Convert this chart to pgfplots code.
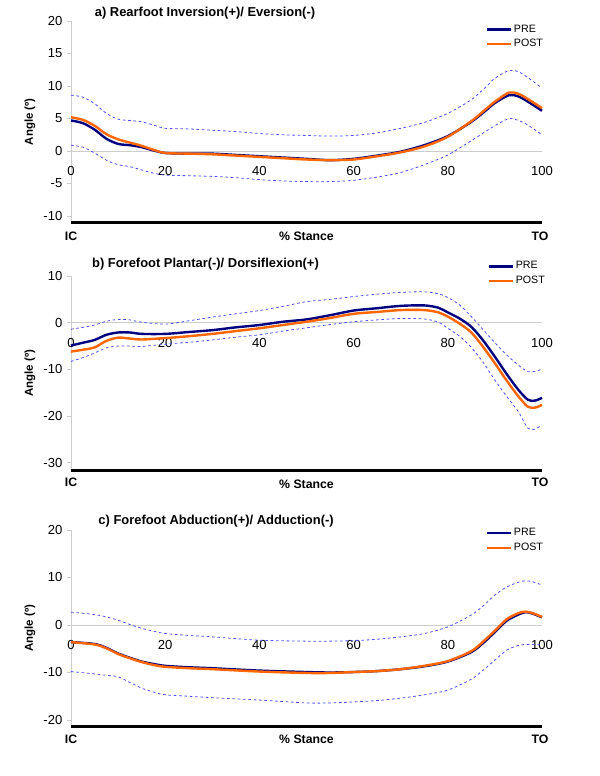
\documentclass[border=0pt]{standalone}
\usepackage{pgfplots}
\pgfplotsset{compat=1.18}
\usepackage{pgfplotstable}
\usepackage{fontspec}
\setmainfont{Liberation Sans}
\definecolor{prec}{RGB}{0,0,128}
\definecolor{postc}{RGB}{255,102,0}
\definecolor{bandc}{RGB}{80,80,255}
\definecolor{axgray}{RGB}{205,205,205}

\pgfplotstableread{
x pre post up lo
0 4.7 5.2 8.6 0.9
2.5 4.3 4.8 8.3 0.6
5 3.3 3.9 7.3 -0.3
7.5 1.9 2.6 5.8 -1.4
10 1.1 1.8 4.9 -2.1
12.5 0.9 1.3 4.7 -2.4
15 0.6 0.8 4.5 -2.9
17.5 0.1 0.2 4.0 -3.4
20 -0.3 -0.3 3.5 -3.7
25 -0.4 -0.4 3.4 -3.8
30 -0.4 -0.5 3.2 -3.9
35 -0.6 -0.7 3.0 -4.1
40 -0.8 -0.9 2.7 -4.4
45 -1.0 -1.1 2.5 -4.6
50 -1.2 -1.3 2.4 -4.7
55 -1.4 -1.4 2.3 -4.7
60 -1.2 -1.3 2.4 -4.5
65 -0.7 -0.8 2.8 -4.0
70 -0.1 -0.2 3.5 -3.3
75 0.9 0.7 4.4 -2.1
80 2.3 2.2 5.8 -0.6
85 4.5 4.6 7.9 1.6
88 6.2 6.4 9.8 3.0
90 7.4 7.6 11.2 3.9
93 8.6 9.0 12.4 5.0
95 8.4 8.8 12.2 4.7
97 7.6 8.0 11.3 4.0
100 6.2 6.6 9.7 2.5
}\dataA

\pgfplotstableread{
x pre post up lo
0 -4.9 -6.2 -1.4 -8.3
2.5 -4.3 -5.8 -1.0 -7.5
5 -3.7 -5.3 -0.5 -6.5
7.5 -2.6 -3.9 0.3 -5.4
10 -2.1 -3.2 0.7 -5.0
12.5 -2.1 -3.4 0.6 -5.0
15 -2.4 -3.6 0.1 -5.1
20 -2.4 -3.3 -0.3 -4.6
25 -2.0 -2.9 0.4 -4.2
30 -1.6 -2.4 1.2 -3.7
35 -1.0 -1.8 1.9 -3.1
40 -0.5 -1.2 2.6 -2.6
45 0.2 -0.5 3.5 -1.8
50 0.7 0.2 4.5 -1.1
55 1.6 1.0 5.0 -0.4
60 2.6 1.9 5.6 0.2
65 3.1 2.3 6.1 0.6
70 3.6 2.7 6.5 0.9
75 3.7 2.7 6.6 0.8
78 3.2 2.2 6.2 0.1
80 2.2 1.3 5.4 -1.2
82.5 0.9 -0.2 3.8 -2.9
85 -0.9 -2.1 1.3 -5.3
87.5 -3.8 -5.2 -1.5 -8.5
90 -7.3 -8.7 -4.3 -12.3
92.5 -11.0 -12.4 -6.9 -15.8
95 -14.4 -15.8 -9.1 -19.1
97 -16.5 -18.0 -10.5 -22.6
98.5 -16.7 -18.2 -10.4 -22.8
100 -16.1 -17.6 -10.0 -21.9
}\dataB

\pgfplotstableread{
x pre post up lo
0 -3.6 -3.6 2.7 -9.8
5 -4.0 -4.1 2.2 -10.3
7.5 -4.8 -4.9 1.7 -10.6
10 -6.0 -6.1 1.0 -10.9
12.5 -6.9 -7.0 0.1 -12.1
15 -7.7 -7.8 -0.7 -13.3
17.5 -8.2 -8.4 -1.3 -14.1
20 -8.6 -8.8 -1.8 -14.7
25 -8.9 -9.1 -2.2 -15.0
30 -9.1 -9.3 -2.5 -15.3
40 -9.6 -9.8 -3.2 -15.8
50 -9.9 -10.1 -3.4 -16.4
55 -10.0 -10.1 -3.4 -16.4
60 -9.9 -9.9 -3.3 -16.2
65 -9.7 -9.7 -3.0 -15.9
70 -9.3 -9.3 -2.5 -15.4
75 -8.7 -8.6 -1.8 -14.7
80 -7.7 -7.6 -0.4 -13.7
85 -5.7 -5.5 2.1 -11.4
87.5 -3.8 -3.5 4.0 -9.5
90 -1.5 -1.2 6.3 -7.4
92.5 0.9 1.2 8.0 -5.3
95 2.2 2.5 9.0 -4.3
96.5 2.7 2.8 9.3 -4.1
98 2.4 2.5 9.1 -4.1
100 1.6 1.7 8.4 -4.2
}\dataC

\pgfplotsset{
  legend image code/.code={\draw[#1] (0pt,0pt) -- (18pt,0pt);},
  panel/.style={
    scale only axis, width=353.25pt,
    xmin=0, xmax=100, clip=false,
    axis x line=middle, axis y line=left,
    x axis line style={axgray, line width=0.6pt, -},
    y axis line style={axgray, line width=0.6pt, -},
    xtick={0,20,...,100},
    x tick style={draw=none},
    y tick style={axgray, line width=0.6pt},
    tick align=outside,
    major tick length=3pt,
    hide obscured x ticks=false,
    /pgf/number format/assume math mode=true,
    tick label style={font=\fontsize{9.8}{11}\selectfont},
    xticklabel style={yshift=-5pt},
    ylabel={Angle (º)},
    every axis y label/.style={at={(rel axis cs:0,0.5)}, xshift=-30.75pt, rotate=90, anchor=center, font=\bfseries\fontsize{8.6}{10}\selectfont},
    xlabel={\% Stance},
    every axis x label/.style={at={(rel axis cs:0.5,0)}, anchor=center, yshift=-10pt, font=\bfseries\fontsize{9.2}{10}\selectfont},
    title style={font=\bfseries\fontsize{9.7}{11}\selectfont, anchor=center},
    legend style={draw=none, fill=none, font=\fontsize{8}{9.5}\selectfont, anchor=north west, inner sep=0pt, row sep=2pt, nodes={inner sep=1pt}},
    legend cell align=left,
  },
  preline/.style={prec, line width=1.8pt, smooth},
  postline/.style={postc, line width=1.8pt, smooth},
  bandline/.style={bandc, line width=0.6pt, dash pattern=on 2pt off 2pt, smooth},
}

\begin{document}
\begin{tikzpicture}
\useasboundingbox (0,0) rectangle (450pt,582pt);

% Panel a
\begin{axis}[panel, at={(53.25pt,415.1pt)}, anchor=south west, height=151.1pt,
  ymin=-11, ymax=20, ytick={-10,-5,...,20},
  title={a) Rearfoot Inversion(+)/ Eversion(-)},
  title style={at={(rel axis cs:0.2845,1.0)}},
  legend style={at={(rel axis cs:0.881,0.99)}}]
\addplot[bandline, forget plot] table[x=x, y=up] {\dataA};
\addplot[bandline, forget plot] table[x=x, y=lo] {\dataA};
\addplot[preline] table[x=x, y=pre] {\dataA};
\addplot[postline] table[x=x, y=post] {\dataA};
\legend{PRE, POST}
\draw[black, line width=2.2pt] (rel axis cs:0,0) -- (rel axis cs:1,0);
\node[font=\bfseries\fontsize{9.2}{10}\selectfont] at (rel axis cs:0,0) [yshift=-10pt] {IC};
\node[font=\bfseries\fontsize{9.2}{10}\selectfont] at (rel axis cs:0.996,0) [yshift=-10pt] {TO};
\end{axis}

% Panel b
\begin{axis}[panel, at={(53.25pt,229.0pt)}, anchor=south west, height=146.0pt,
  ymin=-31.7, ymax=10, ytick={-30,-20,...,10},
  title={b) Forefoot Plantar(-)/ Dorsiflexion(+)},
  title style={at={(rel axis cs:0.2855,1.0205)}},
  legend style={at={(rel axis cs:0.885,1.082)}}]
\addplot[bandline, forget plot] table[x=x, y=up] {\dataB};
\addplot[bandline, forget plot] table[x=x, y=lo] {\dataB};
\addplot[preline] table[x=x, y=pre] {\dataB};
\addplot[postline] table[x=x, y=post] {\dataB};
\legend{PRE, POST}
\draw[black, line width=2.2pt] (rel axis cs:0,0) -- (rel axis cs:1,0);
\node[font=\bfseries\fontsize{9.2}{10}\selectfont] at (rel axis cs:0,0) [yshift=-8.6pt] {IC};
\node[font=\bfseries\fontsize{9.2}{10}\selectfont] at (rel axis cs:0.996,0) [yshift=-8.6pt] {TO};
\end{axis}

% Panel c
\begin{axis}[panel, at={(53.25pt,37.35pt)}, anchor=south west, height=147.2pt,
  ymin=-21.3, ymax=20, ytick={-20,-10,...,20},
  title={c) Forefoot Abduction(+)/ Adduction(-)},
  title style={at={(rel axis cs:0.308,1.005)}},
  legend style={at={(rel axis cs:0.881,1.015)}}]
\addplot[bandline, forget plot] table[x=x, y=up] {\dataC};
\addplot[bandline, forget plot] table[x=x, y=lo] {\dataC};
\addplot[preline] table[x=x, y=pre] {\dataC};
\addplot[postline] table[x=x, y=post] {\dataC};
\legend{PRE, POST}
\draw[black, line width=2.2pt] (rel axis cs:0,0) -- (rel axis cs:1,0);
\node[font=\bfseries\fontsize{9.2}{10}\selectfont] at (rel axis cs:0,0) [yshift=-9.8pt] {IC};
\node[font=\bfseries\fontsize{9.2}{10}\selectfont] at (rel axis cs:0.996,0) [yshift=-9.8pt] {TO};
\end{axis}
\end{tikzpicture}
\end{document}
